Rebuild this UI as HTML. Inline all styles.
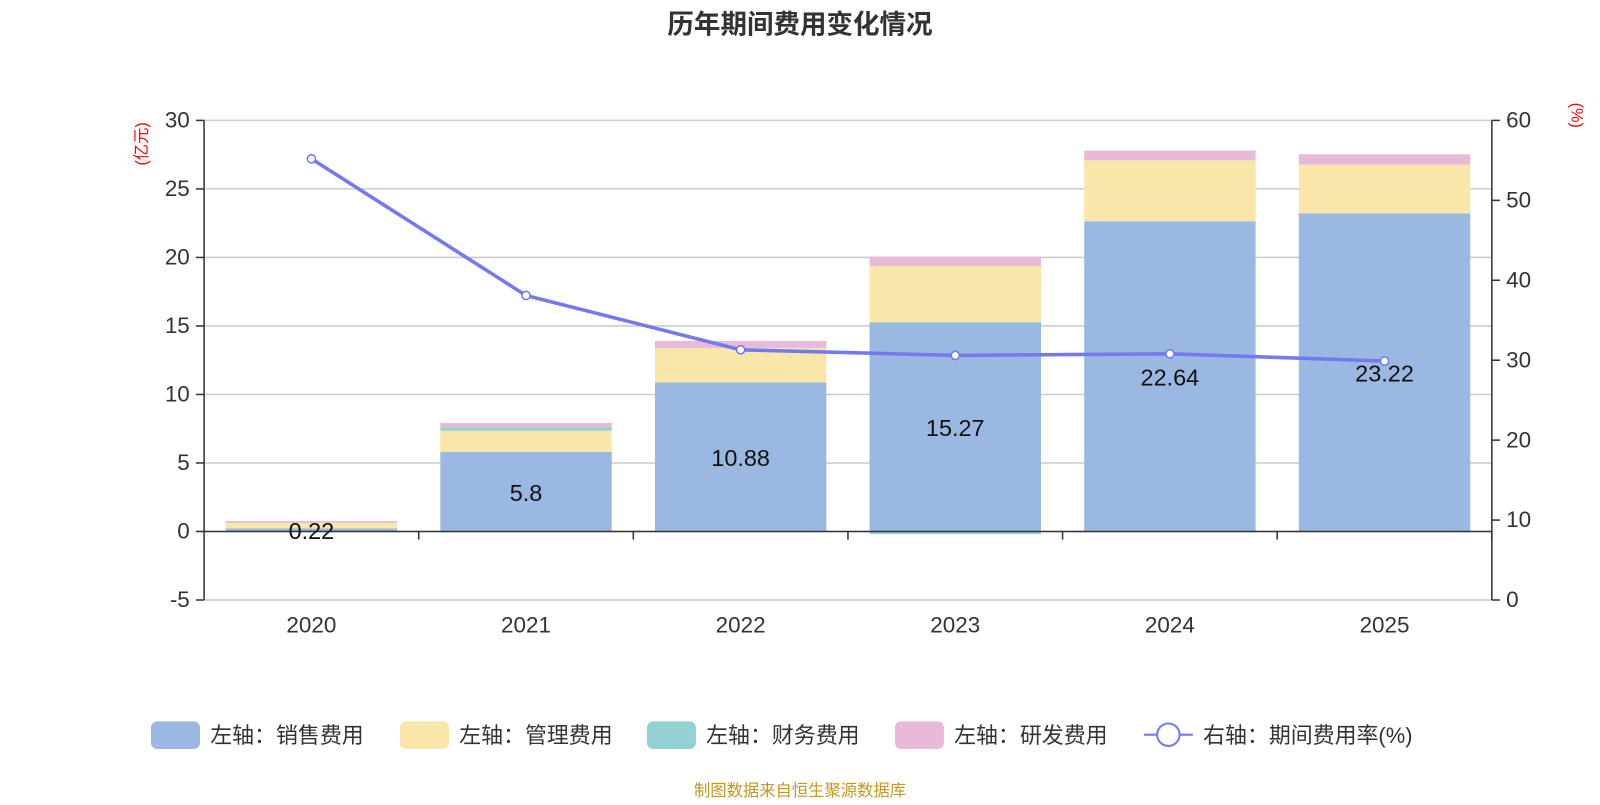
<!DOCTYPE html>
<html><head><meta charset="utf-8"><style>
body{margin:0;background:#fff;font-family:"Liberation Sans","Noto Sans CJK SC",sans-serif}
svg text{font-family:"Liberation Sans","Noto Sans CJK SC",sans-serif}
</style></head><body>
<svg id="c" width="1600" height="800" viewBox="0 0 1568 784">
<text x="784" y="33" text-anchor="middle" font-size="26" font-weight="bold" fill="#333">历年期间费用变化情况</text>
<text transform="translate(144,141) rotate(-90)" text-anchor="middle" font-size="16" fill="red">(亿元)</text>
<text transform="translate(1540,113) rotate(90)" text-anchor="middle" font-size="16" fill="red">(%)</text>
<g id="grid"></g><g id="bars"></g><g id="axes"></g><g id="line"></g><g id="labels"></g>
<g id="legend" font-size="21.5" fill="#333"></g>
<text x="784" y="780" text-anchor="middle" font-size="16" fill="#c8961e">制图数据来自恒生聚源数据库</text>
</svg>
<script>
const categories=["2020","2021","2022","2023","2024","2025"];
const sales=[0.22,5.8,10.88,15.27,22.64,23.22];
const mgmt=[0.4,1.55,2.5,4.11,4.45,3.55];
const finance=[0.02,0.25,0.02,-0.2,0.02,0.02];
const rnd=[0.12,0.32,0.5,0.67,0.69,0.74];
const rate=[55.2,38.1,31.3,30.6,30.8,29.9];
const leftTicks=[-5,0,5,10,15,20,25,30];
const rightTicks=[0,10,20,30,40,50,60];
const NS="http://www.w3.org/2000/svg";
const X0=200,X1=1462,Y0=118,Y1=588;
const yL=v=>Y0+(30-v)/35*(Y1-Y0);
const yR=v=>Y0+(60-v)/60*(Y1-Y0);
const bw=(X1-X0)/categories.length;
const xc=i=>X0+bw*(i+0.5);
function mk(p,t,a){const e=document.createElementNS(NS,t);for(const k in a)e.setAttribute(k,a[k]);document.getElementById(p).appendChild(e);return e;}
leftTicks.forEach(v=>{
 const g=mk('grid','line',{x1:X0,x2:X1,y1:yL(v),y2:yL(v),stroke:'#ccc','stroke-width':1.5});
 
 
 mk('axes','line',{x1:X0-8,x2:X0,y1:yL(v),y2:yL(v),stroke:'#333','stroke-width':1.5});
 const t=mk('axes','text',{x:X0-14,y:yL(v)+7,'text-anchor':'end','font-size':22,fill:'#333'});t.textContent=v;
 
 
});
rightTicks.forEach(v=>{
 mk('axes','line',{x1:X1,x2:X1+8,y1:yR(v),y2:yR(v),stroke:'#333','stroke-width':1.5});
 const t=mk('axes','text',{x:X1+14,y:yR(v)+7,'font-size':22,fill:'#333'});t.textContent=v;
 
 
});
mk('axes','line',{x1:X0,x2:X0,y1:Y0,y2:Y1,stroke:'#333','stroke-width':1.5});
mk('axes','line',{x1:X1,x2:X1,y1:Y0,y2:Y1,stroke:'#333','stroke-width':1.5});
mk('axes','line',{x1:X0,x2:X1,y1:yL(0),y2:yL(0),stroke:'#333','stroke-width':1.5});
const colors=['#9bb8e2','#f8e7a9','#92d2d3','#e8b9d9'];
const series=[sales,mgmt,finance,rnd];
categories.forEach((c,i)=>{
 mk('axes','line',{x1:X0+bw*(i+1),x2:X0+bw*(i+1),y1:yL(0),y2:yL(0)+8,stroke:'#333','stroke-width':1.5});
 const t=mk('axes','text',{x:xc(i),y:620,'text-anchor':'middle','font-size':22,fill:'#333'});t.textContent=c;
 
 
 let pos=0,neg=0;
 series.forEach((s,k)=>{
  const v=s[i];let a,b;
  if(v>=0){a=pos;b=pos+v;pos=b;}else{a=neg;b=neg+v;neg=b;}
  const r=mk('bars','rect',{x:xc(i)-84,width:168,y:Math.min(yL(a),yL(b)),height:Math.abs(yL(a)-yL(b)),fill:colors[k]});
  
  
 });
 const l=mk('labels','text',{x:xc(i),y:yL(sales[i]/2)+9,'text-anchor':'middle','font-size':23,fill:'#111'});l.textContent=sales[i];
 
 
});
mk('line','polyline',{points:rate.map((v,i)=>xc(i)+','+yR(v)).join(' '),fill:'none',stroke:'#7479f0','stroke-width':3.5});
rate.forEach((v,i)=>{const p=mk('line','circle',{cx:xc(i),cy:yR(v),r:4,fill:'#fff',stroke:'#7479f0','stroke-width':1.5});
 
 });
const leg=[['左轴：销售费用',148],['左轴：管理费用',392],['左轴：财务费用',634],['左轴：研发费用',877]];
leg.forEach((L,k)=>{
 const r=mk('legend','rect',{x:L[1],y:707,width:48,height:27,rx:6,fill:colors[k]});
 
 
 const t=mk('legend','text',{x:L[1]+58,y:728});t.textContent=L[0];
 
 
});
mk('legend','line',{x1:1121,x2:1169,y1:720,y2:720,stroke:'#7479f0','stroke-width':2});
mk('legend','circle',{cx:1145,cy:720,r:11,fill:'#fff',stroke:'#7479f0','stroke-width':2});
const t=mk('legend','text',{x:1179,y:728});t.textContent='右轴：期间费用率(%)';


</script>
</body></html>
